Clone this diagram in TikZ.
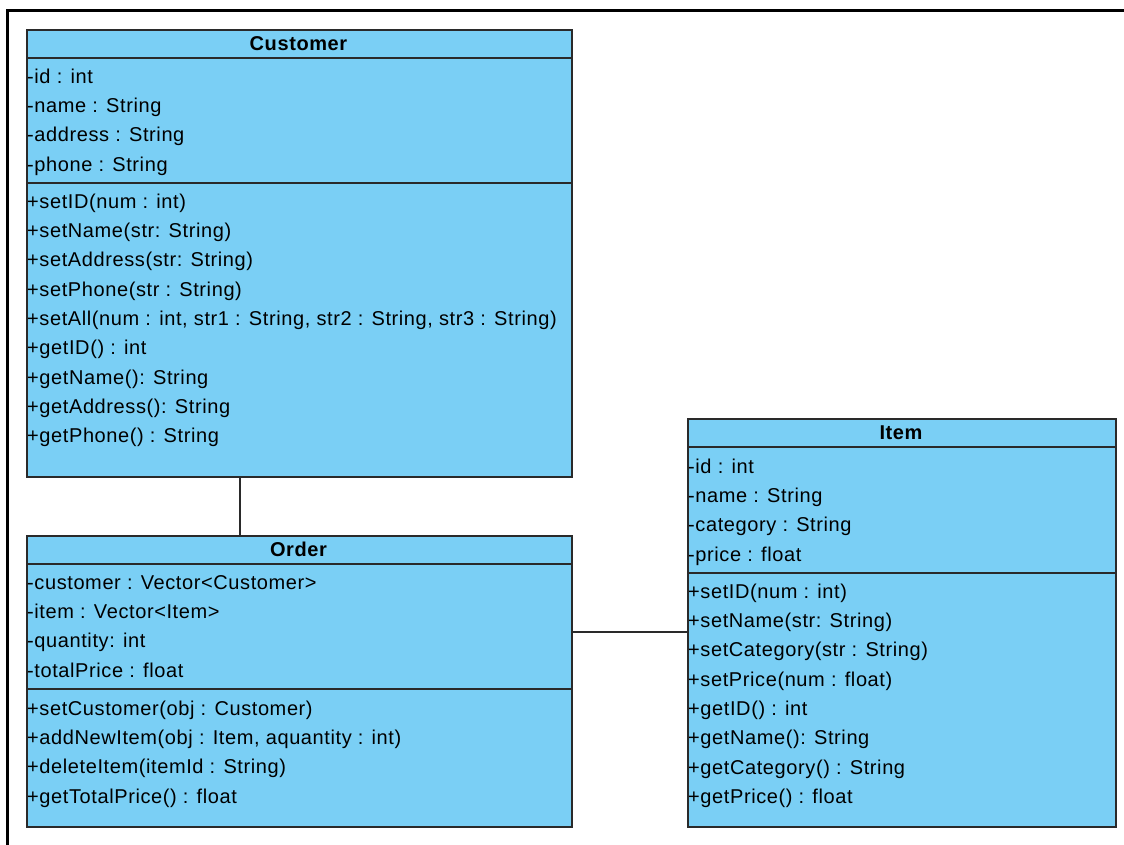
\documentclass[tikz,border=0pt]{standalone}
\usepackage{fontspec}
\setmainfont{Liberation Sans}[LetterSpace=3]
\definecolor{umlblue}{HTML}{7ACFF5}
\definecolor{umlline}{HTML}{2A2A2A}
\tikzset{
  classbox/.style={draw=umlline, fill=umlblue, line width=1.5pt, anchor=north west, inner sep=0pt},
  rowtext/.style={anchor=base west, inner sep=0pt, yshift=2pt, font=\fontsize{20}{24}\selectfont},
  headtext/.style={anchor=base, inner sep=0pt, yshift=1.5pt, font=\fontsize{20}{24}\selectfont\bfseries},
  sepline/.style={draw=umlline, line width=1.5pt},
  assoc/.style={draw=umlline, line width=1.5pt},
  frame/.style={draw=black, line width=3pt}
}
\newcommand\rowat[4]{\node[rowtext] (#1) at (#2,#3) {#4};}
\begin{document}
\begin{tikzpicture}[x=1pt,y=-1pt]
\useasboundingbox (0,0) rectangle (1124,844);
\draw[frame] (7.5,850) -- (7.5,10.5) -- (1130,10.5);

% Customer
\node[classbox, minimum width=545pt, minimum height=447pt] (customer) at (26,29) {};
\draw[sepline] (26,58) -- (571,58);
\draw[sepline] (26,183) -- (571,183);
\node[headtext] (customerh) at (298.5,52) {Customer};
\rowat{c1}{27}{85}{-id : int}
\rowat{c2}{27}{114.3}{-name : String}
\rowat{c3}{27}{143.7}{-address : String}
\rowat{c4}{27}{173}{-phone : String}
\rowat{c5}{27}{210}{+setID(num : int)}
\rowat{c6}{27}{239.3}{+setName(str: String)}
\rowat{c7}{27}{268.7}{+setAddress(str: String)}
\rowat{c8}{27}{298}{+setPhone(str : String)}
\rowat{c9}{27}{327.3}{+setAll(num : int, str1 : String, str2 : String, str3 : String)}
\rowat{c10}{27}{356.7}{+getID() : int}
\rowat{c11}{27}{386}{+getName(): String}
\rowat{c12}{27}{415.3}{+getAddress(): String}
\rowat{c13}{27}{444.7}{+getPhone() : String}

% Order
\node[classbox, minimum width=545pt, minimum height=291pt] (order) at (26,535) {};
\draw[sepline] (26,564) -- (571,564);
\draw[sepline] (26,689) -- (571,689);
\node[headtext] (orderh) at (298.5,558) {Order};
\rowat{o1}{27}{591}{-customer : Vector<Customer>}
\rowat{o2}{27}{620.3}{-item : Vector<Item>}
\rowat{o3}{27}{649.7}{-quantity: int}
\rowat{o4}{27}{679}{-totalPrice : float}
\rowat{o5}{27}{717}{+setCustomer(obj : Customer)}
\rowat{o6}{27}{746.3}{+addNewItem(obj : Item, aquantity : int)}
\rowat{o7}{27}{775.7}{+deleteItem(itemId : String)}
\rowat{o8}{27}{805}{+getTotalPrice() : float}

% Item
\node[classbox, minimum width=428pt, minimum height=408pt] (item) at (687,418) {};
\draw[sepline] (687,447) -- (1115,447);
\draw[sepline] (687,573) -- (1115,573);
\node[headtext] (itemh) at (901,441) {Item};
\rowat{i1}{688}{475}{-id : int}
\rowat{i2}{688}{504.3}{-name : String}
\rowat{i3}{688}{533.7}{-category : String}
\rowat{i4}{688}{563}{-price : float}
\rowat{i5}{688}{600}{+setID(num : int)}
\rowat{i6}{688}{629.3}{+setName(str: String)}
\rowat{i7}{688}{658.7}{+setCategory(str : String)}
\rowat{i8}{688}{688}{+setPrice(num : float)}
\rowat{i9}{688}{717.3}{+getID() : int}
\rowat{i10}{688}{746.7}{+getName(): String}
\rowat{i11}{688}{776}{+getCategory() : String}
\rowat{i12}{688}{805.3}{+getPrice() : float}

% associations
\coordinate (co) at (240,0);
\draw[assoc] (customer.south -| co) -- (order.north -| co);
\coordinate (oi) at (0,632);
\draw[assoc] (order.east |- oi) -- (item.west |- oi);
\end{tikzpicture}
\end{document}
